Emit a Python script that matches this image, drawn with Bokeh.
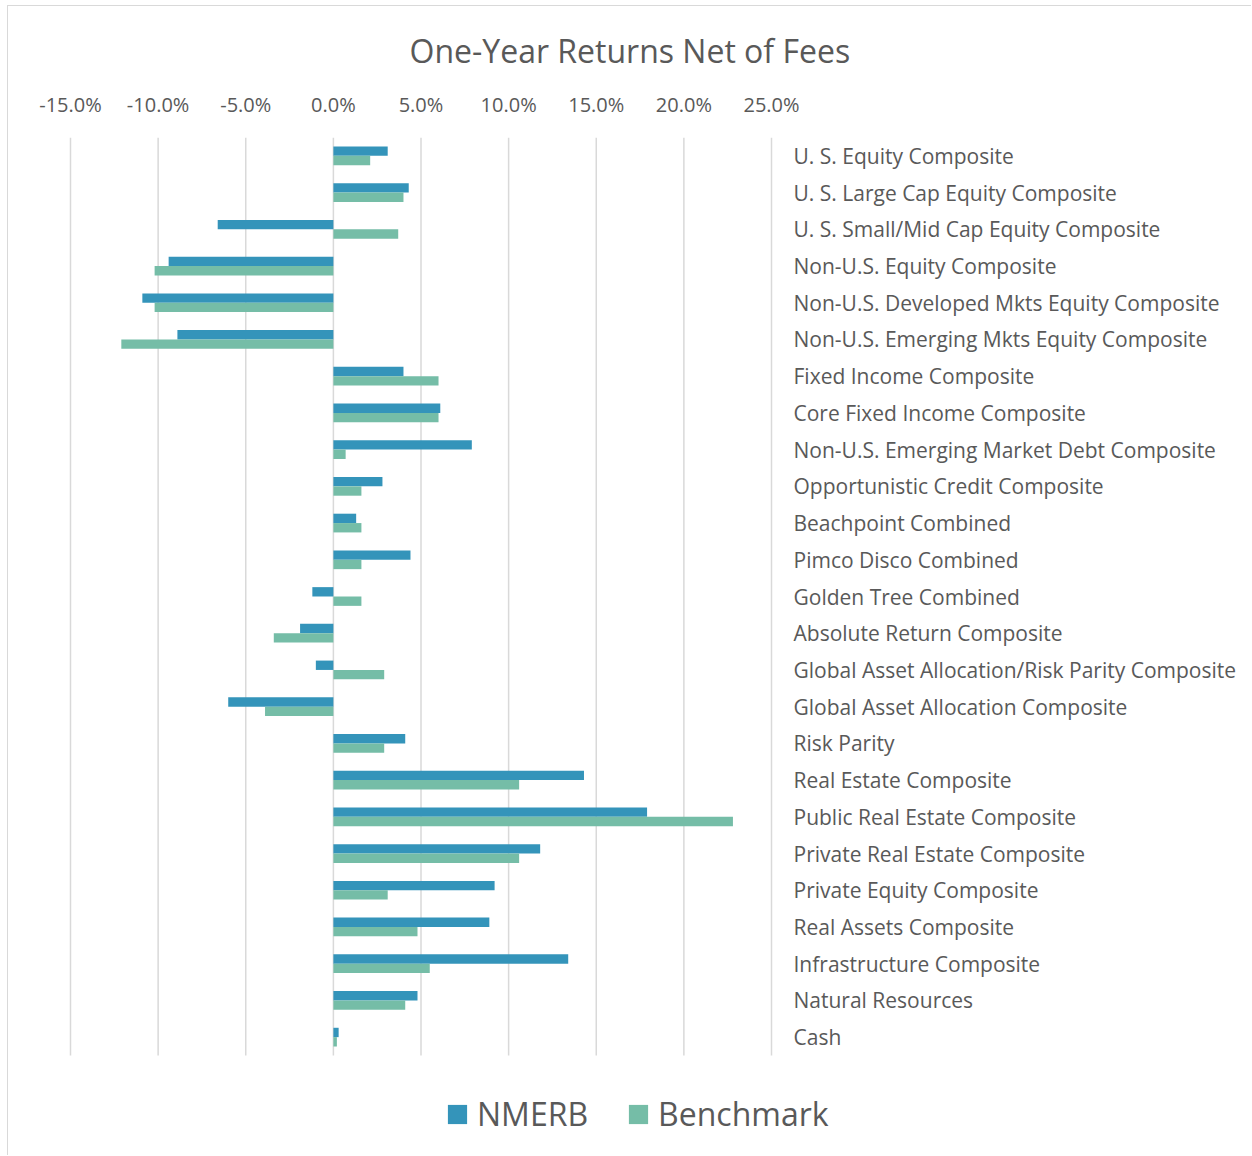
from bokeh.plotting import figure
from bokeh.models import (Range1d, FixedTicker, ColumnDataSource, Legend, LegendItem)
from bokeh.core.properties import value
from bokeh.transform import dodge
from bokeh.embed import file_html
from bokeh.resources import INLINE

categories = [
    "U. S. Equity Composite",
    "U. S. Large Cap Equity Composite",
    "U. S. Small/Mid Cap Equity Composite",
    "Non-U.S. Equity Composite",
    "Non-U.S. Developed Mkts Equity Composite",
    "Non-U.S. Emerging Mkts Equity Composite",
    "Fixed Income Composite",
    "Core Fixed Income Composite",
    "Non-U.S. Emerging Market Debt Composite",
    "Opportunistic Credit Composite",
    "Beachpoint Combined",
    "Pimco Disco Combined",
    "Golden Tree Combined",
    "Absolute Return Composite",
    "Global Asset Allocation/Risk Parity Composite",
    "Global Asset Allocation Composite",
    "Risk Parity",
    "Real Estate Composite",
    "Public Real Estate Composite",
    "Private Real Estate Composite",
    "Private Equity Composite",
    "Real Assets Composite",
    "Infrastructure Composite",
    "Natural Resources",
    "Cash",
]
nmerb = [3.1, 4.3, -6.6, -9.4, -10.9, -8.9, 4.0, 6.1, 7.9, 2.8, 1.3, 4.4, -1.2,
         -1.9, -1.0, -6.0, 4.1, 14.3, 17.9, 11.8, 9.2, 8.9, 13.4, 4.8, 0.3]
benchmark = [2.1, 4.0, 3.7, -10.2, -10.2, -12.1, 6.0, 6.0, 0.7, 1.6, 1.6, 1.6, 1.6,
             -3.4, 2.9, -3.9, 2.9, 10.6, 22.8, 10.6, 3.1, 4.8, 5.5, 4.1, 0.2]
x_ticks = [-15, -10, -5, 0, 5, 10, 15, 20, 25]
x_tick_labels = ["-15.0%", "-10.0%", "-5.0%", "0.0%", "5.0%", "10.0%", "15.0%", "20.0%", "25.0%"]

FONT = "Open Sans"
TXT = "#595959"
C_N = "#3494BA"
C_B = "#75BDA7"

n = len(categories)
W, H = 1244, 1150
PX = 17.525          # pixels per percentage point
LEFT_PAD = 62        # pixels left of the -15% line
RIGHT_PAD = W - LEFT_PAD - PX * (x_ticks[-1] - x_ticks[0])
LABEL_GAP = 22       # pixels between the 25% line and category labels
BOTTOM_ROWS = (H - 131 - 918) / (918 / n)   # extra rows below the data for the legend

src = ColumnDataSource(dict(y=list(range(n)), nmerb=nmerb, bench=benchmark,
                            cat=categories,
                            lx=[x_ticks[-1] + LABEL_GAP / PX] * n))

yr = Range1d(n - 0.5 + BOTTOM_ROWS, -0.5)
xr = Range1d(x_ticks[0] - LEFT_PAD / PX, x_ticks[-1] + RIGHT_PAD / PX)
p = figure(width=W, height=H, output_backend="svg", toolbar_location=None,
           x_range=xr, y_range=yr,
           x_axis_location="above", y_axis_location=None,
           min_border_left=0, min_border_right=0, min_border_top=131,
           min_border_bottom=0, title="One-Year Returns Net of Fees")
p.styles = {"border-top": "1px solid #d9d9d9", "border-left": "1px solid #d9d9d9",
            "margin-left": "7px", "margin-top": "5px"}
p.outline_line_color = None
p.background_fill_color = "white"
p.border_fill_color = "white"

p.title.align = "left"
p.title.offset = 401
p.title.standoff = 32
p.title.text_font = FONT
p.title.text_font_size = "32px"
p.title.text_font_style = "normal"
p.title.text_color = TXT

xa = p.xaxis[0]
xa.ticker = FixedTicker(ticks=x_ticks)
xa.major_label_overrides = {t: l for t, l in zip(x_ticks, x_tick_labels)}
xa.axis_line_color = None
xa.major_tick_line_color = None
xa.minor_tick_line_color = None
xa.major_tick_out = 0
xa.major_tick_in = 0
xa.major_label_text_font = FONT
xa.major_label_text_font_size = "20px"
xa.major_label_text_color = TXT
xa.major_label_standoff = 20

p.xgrid.grid_line_color = None
p.ygrid.grid_line_color = None
# vertical gridlines spanning only the category rows
p.segment(x0=x_ticks, x1=x_ticks, y0=[-0.5] * len(x_ticks), y1=[n - 0.5] * len(x_ticks),
          line_color="#d9d9d9", line_width=1.5)

# category labels to the right of the plotting area
p.text(x="lx", y="y", text="cat", source=src, text_font=value(FONT),
       text_font_size="21px", text_color=TXT, text_align="left",
       text_baseline="middle")

h = 0.255
r1 = p.hbar(y=dodge("y", -h / 2, range=yr), left=0, right="nmerb", height=h,
            source=src, fill_color=C_N, line_color=None)
r2 = p.hbar(y=dodge("y", h / 2, range=yr), left=0, right="bench", height=h,
            source=src, fill_color=C_B, line_color=None)

legend = Legend(items=[LegendItem(label="NMERB", renderers=[r1]),
                       LegendItem(label="Benchmark", renderers=[r2])],
                orientation="horizontal", location=(437, 21))
legend.label_text_font = FONT
legend.label_text_font_size = "32px"
legend.label_text_color = TXT
legend.glyph_width = 24
legend.glyph_height = 24
legend.label_standoff = 8
legend.spacing = 38
legend.padding = 0
legend.margin = 0
legend.border_line_color = None
legend.background_fill_alpha = 0
p.add_layout(legend, "center")

open("out.html", "w").write(file_html(p, INLINE))
